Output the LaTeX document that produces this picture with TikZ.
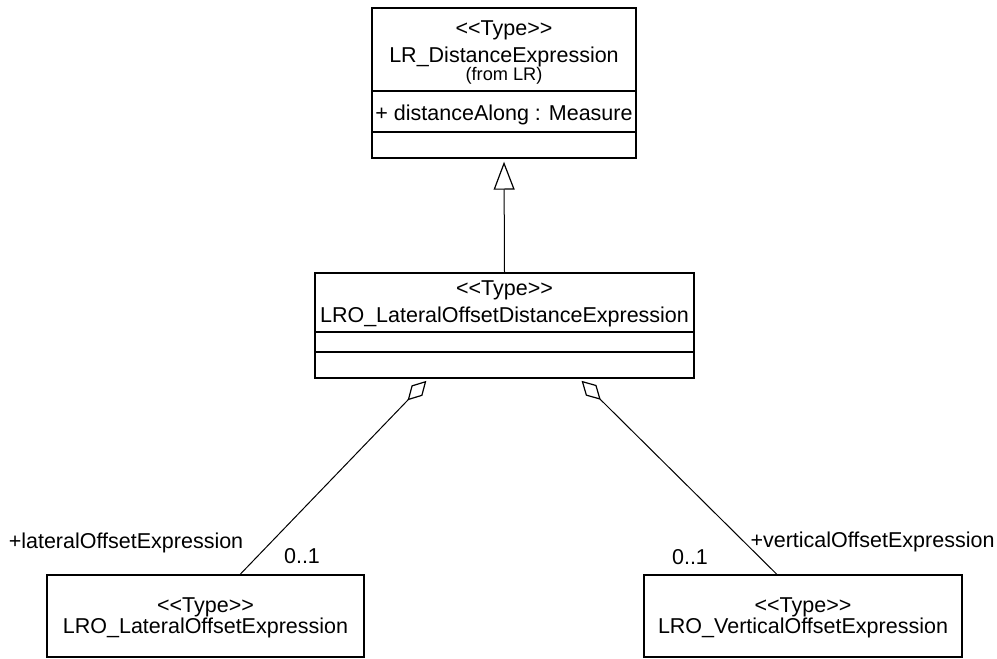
\documentclass[tikz,border=0pt]{standalone}
\usepackage{fontspec}
\setmainfont{Liberation Sans}
\usetikzlibrary{arrows.meta,calc}
\newcommand{\stereotype}[1]{<{}<#1>{}>}
\tikzset{
  classbox/.style={draw, line width=0.7pt, inner sep=0pt},
  txt/.style={anchor=base, inner sep=0pt, font=\fontsize{10.75}{13}\selectfont},
  smalltxt/.style={anchor=base, inner sep=0pt, font=\fontsize{9.1}{11}\selectfont},
  gen/.style={line width=0.5pt, -{Triangle[open, length=14pt, width=10.5pt, line width=0.6pt]}, shorten >=1.5pt},
  agg/.style={line width=0.5pt, {Diamond[open, length=13.5pt, width=7.5pt, line width=0.6pt]}-, shorten <=1.5pt}
}
\begin{document}
\begin{tikzpicture}[x=0.5pt, y=-0.5pt]
  \useasboundingbox (0,0) rectangle (997,659);
  % class boxes
  \node[classbox, minimum width=132pt, minimum height=75pt] (dist) at (504,83) {};
  \node[classbox, minimum width=189.5pt, minimum height=52.5pt] (mid) at (504.5,325.5) {};
  \node[classbox, minimum width=158.5pt, minimum height=41pt] (lat) at (205.5,616) {};
  \node[classbox, minimum width=159pt, minimum height=41pt] (vert) at (803,616) {};
  % compartments
  \draw[line width=0.7pt] (dist.west |- 0,91) -- (dist.east |- 0,91);
  \draw[line width=0.7pt] (dist.west |- 0,132) -- (dist.east |- 0,132);
  \draw[line width=0.7pt] (mid.west |- 0,332) -- (mid.east |- 0,332);
  \draw[line width=0.7pt] (mid.west |- 0,352) -- (mid.east |- 0,352);
  % texts
  \node[txt] (diststereo) at (504,35) {\stereotype{Type}};
  \node[txt] (distname) at (504,62) {LR\_DistanceExpression};
  \node[smalltxt] (distfrom) at (504,80) {(from LR)};
  \node[txt] (distattr) at (504,120) {+ distanceAlong : Measure};
  \node[txt] (midstereo) at (504.5,295) {\stereotype{Type}};
  \node[txt] (midname) at (504.5,322) {LRO\_LateralOffsetDistanceExpression};
  \node[txt] (latstereo) at (205.5,612) {\stereotype{Type}};
  \node[txt] (latname) at (205.5,633) {LRO\_LateralOffsetExpression};
  \node[txt] (vertstereo) at (803,612) {\stereotype{Type}};
  \node[txt] (vertname) at (803,633) {LRO\_VerticalOffsetExpression};
  % connectors
  \draw[gen] (mid.north) -- (dist.south);
  \draw[agg] ($(mid.south west)!0.3!(mid.south east)$) -- ($(lat.north west)!0.609!(lat.north east)$);
  \draw[agg] ($(mid.south west)!0.697!(mid.south east)$) -- ($(vert.north west)!0.418!(vert.north east)$);
  % role names and multiplicities
  \node[txt] (latrole) at (126,548) {+lateralOffsetExpression};
  \node[txt] (latmult) at (302,563) {0..1};
  \node[txt] (vertrole) at (872.5,547) {+verticalOffsetExpression};
  \node[txt] (vertmult) at (690,564) {0..1};
\end{tikzpicture}
\end{document}
